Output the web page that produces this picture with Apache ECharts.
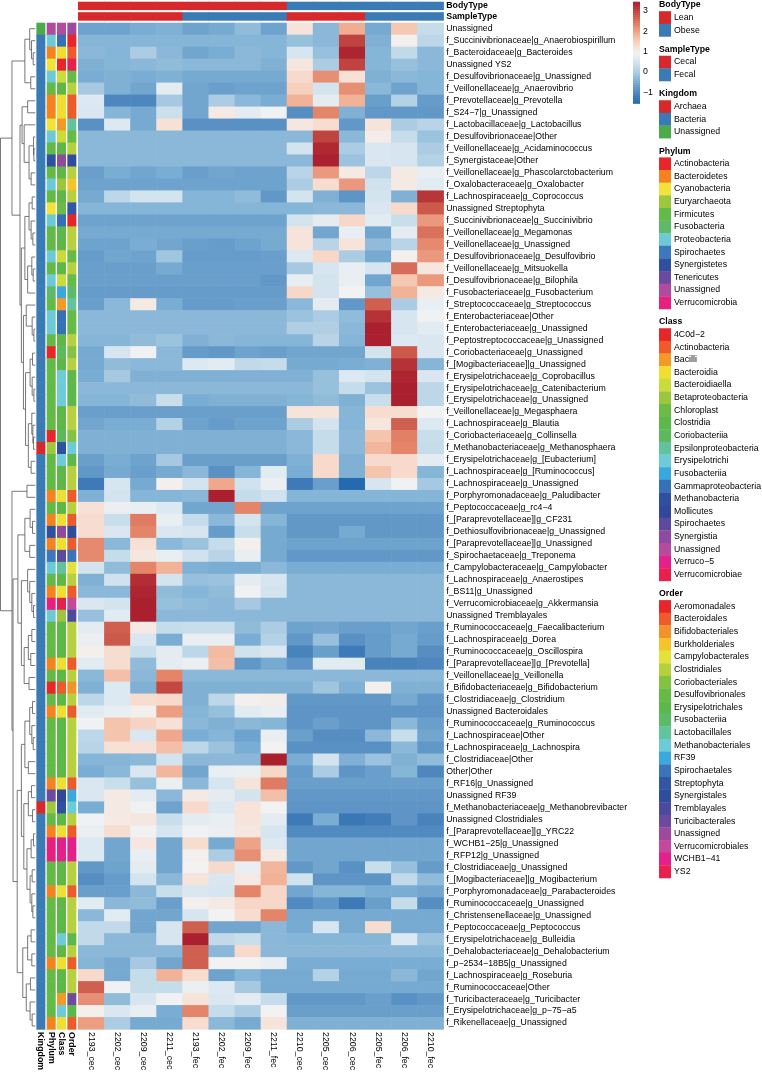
<!DOCTYPE html>
<html><head><meta charset="utf-8">
<script src="https://cdn.jsdelivr.net/npm/echarts@6/dist/echarts.min.js"></script>
<style>html,body{margin:0;padding:0;background:#fff}#c{width:762px;height:1073px}</style>
</head><body><div id="c"></div><script>
const samples = ['2193_cec','2202_cec','2209_cec','2211_cec','2193_fec','2202_fec','2209_fec','2211_fec','2210_cec','2205_cec','2206_cec','2205_fec','2206_fec','2210_fec'];
const bodyType = ['Lean','Lean','Lean','Lean','Lean','Lean','Lean','Lean','Obese','Obese','Obese','Obese','Obese','Obese'];
const sampleType = ['Cecal','Cecal','Cecal','Cecal','Fecal','Fecal','Fecal','Fecal','Cecal','Cecal','Cecal','Fecal','Fecal','Fecal'];
const M = '\u2212';
const taxa = ['Unassigned','f_Succinivibrionaceae|g_Anaerobiospirillum','f_Bacteroidaceae|g_Bacteroides','Unassigned YS2','f_Desulfovibrionaceae|g_Unassigned','f_Veillonellaceae|g_Anaerovibrio','f_Prevotellaceae|g_Prevotella','f_S24'+M+'7|g_Unassigned','f_Lactobacillaceae|g_Lactobacillus','f_Desulfovibrionaceae|Other','f_Veillonellaceae|g_Acidaminococcus','f_Synergistaceae|Other','f_Veillonellaceae|g_Phascolarctobacterium','f_Oxalobacteraceae|g_Oxalobacter','f_Lachnospiraceae|g_Coprococcus','Unassigned Streptophyta','f_Succinivibrionaceae|g_Succinivibrio','f_Veillonellaceae|g_Megamonas','f_Veillonellaceae|g_Unassigned','f_Desulfovibrionaceae|g_Desulfovibrio','f_Veillonellaceae|g_Mitsuokella','f_Desulfovibrionaceae|g_Bilophila','f_Fusobacteriaceae|g_Fusobacterium','f_Streptococcaceae|g_Streptococcus','f_Enterobacteriaceae|Other','f_Enterobacteriaceae|g_Unassigned','f_Peptostreptococcaceae|g_Unassigned','f_Coriobacteriaceae|g_Unassigned','f_[Mogibacteriaceae]|g_Unassigned','f_Erysipelotrichaceae|g_Coprobacillus','f_Erysipelotrichaceae|g_Catenibacterium','f_Erysipelotrichaceae|g_Unassigned','f_Veillonellaceae|g_Megasphaera','f_Lachnospiraceae|g_Blautia','f_Coriobacteriaceae|g_Collinsella','f_Methanobacteriaceae|g_Methanosphaera','f_Erysipelotrichaceae|g_[Eubacterium]','f_Lachnospiraceae|g_[Ruminococcus]','f_Lachnospiraceae|g_Unassigned','f_Porphyromonadaceae|g_Paludibacter','f_Peptococcaceae|g_rc4'+M+'4','f_[Paraprevotellaceae]|g_CF231','f_Dethiosulfovibrionaceae|g_Unassigned','f_[Paraprevotellaceae]|g_Unassigned','f_Spirochaetaceae|g_Treponema','f_Campylobacteraceae|g_Campylobacter','f_Lachnospiraceae|g_Anaerostipes','f_BS11|g_Unassigned','f_Verrucomicrobiaceae|g_Akkermansia','Unassigned Tremblayales','f_Ruminococcaceae|g_Faecalibacterium','f_Lachnospiraceae|g_Dorea','f_Ruminococcaceae|g_Oscillospira','f_[Paraprevotellaceae]|g_[Prevotella]','f_Veillonellaceae|g_Veillonella','f_Bifidobacteriaceae|g_Bifidobacterium','f_Clostridiaceae|g_Clostridium','Unassigned Bacteroidales','f_Ruminococcaceae|g_Ruminococcus','f_Lachnospiraceae|Other','f_Lachnospiraceae|g_Lachnospira','f_Clostridiaceae|Other','Other|Other','f_RF16|g_Unassigned','Unassigned RF39','f_Methanobacteriaceae|g_Methanobrevibacter','Unassigned Clostridiales','f_[Paraprevotellaceae]|g_YRC22','f_WCHB1'+M+'25|g_Unassigned','f_RFP12|g_Unassigned','f_Clostridiaceae|g_Unassigned','f_[Mogibacteriaceae]|g_Mogibacterium','f_Porphyromonadaceae|g_Parabacteroides','f_Ruminococcaceae|g_Unassigned','f_Christensenellaceae|g_Unassigned','f_Peptococcaceae|g_Peptococcus','f_Erysipelotrichaceae|g_Bulleidia','f_Dehalobacteriaceae|g_Dehalobacterium','f_p'+M+'2534'+M+'18B5|g_Unassigned','f_Lachnospiraceae|g_Roseburia','f_Ruminococcaceae|Other','f_Turicibacteraceae|g_Turicibacter','f_Erysipelotrichaceae|g_p'+M+'75'+M+'a5','f_Rikenellaceae|g_Unassigned'];

const values = [
[-0.6,-0.6,-0.45,-0.4,-0.6,-0.5,-0.25,-0.6,1.2,-0.3,1.9,-0.5,1.6,0.3],
[-0.35,-0.35,-0.35,-0.35,-0.35,-0.35,-0.35,-0.35,-0.2,-0.3,3.0,-0.4,1.0,0.2],
[-0.3,-0.35,0.0,-0.3,-0.55,-0.45,-0.3,-0.35,0.55,-0.2,3.35,-0.35,0.25,-0.3],
[-0.4,-0.35,-0.3,-0.25,-0.3,-0.3,-0.3,-0.4,1.15,0.0,3.0,-0.35,-0.2,-0.3],
[-0.45,-0.4,-0.45,-0.4,-0.5,-0.5,-0.5,-0.5,1.35,2.2,1.25,-0.4,-0.3,-0.35],
[-0.05,-0.4,-0.55,0.75,-0.55,-0.65,-0.6,-0.6,1.5,0.5,2.2,-0.3,-0.6,-0.35],
[0.65,-1.0,-1.0,-0.05,-0.55,0.0,-0.3,-0.45,1.85,0.75,1.85,-0.65,0.1,-0.7],
[0.6,-0.35,-0.5,0.4,-0.55,1.1,0.75,0.9,-0.9,2.3,-0.4,-0.75,-0.75,-0.75],
[-0.85,0.65,-0.5,1.25,-0.85,-0.85,-0.85,-0.85,1.15,1.3,-0.75,1.2,0.0,0.15],
[-0.3,-0.3,-0.3,-0.3,-0.3,-0.3,-0.3,-0.3,-0.3,3.0,-0.3,1.05,0.3,-0.15],
[-0.3,-0.3,-0.3,-0.3,-0.3,-0.3,-0.3,-0.3,0.5,3.3,0.0,0.6,0.55,0.0],
[-0.3,-0.3,-0.3,-0.3,-0.3,-0.3,-0.3,-0.3,-0.3,3.4,-0.15,0.6,0.55,0.1],
[-0.65,-0.45,-0.55,-0.45,-0.65,-0.55,-0.6,-0.6,0.15,2.1,1.1,0.2,1.1,0.8],
[-0.6,-0.6,-0.6,-0.6,-0.6,-0.6,-0.6,-0.6,0.0,1.3,2.1,0.45,1.1,0.7],
[-0.5,0.2,0.5,0.5,-0.35,-0.35,-0.25,-0.75,0.5,-0.4,-0.8,0.5,-0.4,3.15],
[-0.35,-0.35,-0.35,-0.35,-0.35,-0.35,-0.35,-0.35,-0.35,-0.3,-0.3,0.6,1.35,2.75],
[-0.6,-0.6,-0.6,-0.6,-0.6,-0.6,-0.6,-0.6,0.5,0.75,1.4,0.7,0.35,2.1],
[-0.5,-0.5,-0.5,-0.5,-0.5,-0.5,-0.5,-0.5,1.2,-0.55,0.8,-0.55,0.75,2.5],
[-0.6,-0.6,-0.45,-0.55,-0.65,-0.7,-0.6,-0.5,1.2,0.15,1.2,-0.25,0.15,2.25],
[-0.7,-0.55,-0.6,-0.1,-0.7,-0.7,-0.7,-0.65,0.65,1.4,0.0,-0.5,1.0,2.1],
[-0.65,-0.65,-0.65,-0.5,-0.65,-0.65,-0.65,-0.65,-0.05,0.55,0.8,0.55,2.55,1.15],
[-0.65,-0.65,-0.65,-0.65,-0.65,-0.65,-0.65,-0.75,0.8,0.5,0.8,-0.55,1.6,2.1],
[-0.7,-0.7,-0.7,-0.7,-0.7,-0.7,-0.7,-0.7,1.4,0.5,0.95,-0.2,1.85,1.1],
[-0.65,-0.3,1.1,-0.45,-0.7,-0.7,-0.65,-0.65,-0.3,0.75,-0.75,2.7,0.0,0.8],
[-0.3,-0.3,-0.3,-0.3,-0.3,-0.3,-0.3,-0.3,-0.15,0.0,-0.25,3.2,0.55,0.9],
[-0.3,-0.3,-0.3,-0.3,-0.3,-0.3,-0.3,-0.3,0.05,0.05,-0.3,3.4,0.55,0.7],
[-0.35,-0.35,-0.25,-0.15,-0.4,-0.3,-0.35,-0.35,-0.35,0.15,-0.35,3.4,0.65,0.6],
[-0.5,0.55,0.9,-0.3,-0.7,-0.75,-0.6,-0.65,-0.55,-0.55,-0.55,0.5,2.75,0.6],
[-0.5,-0.25,-0.3,-0.3,0.65,0.7,0.25,0.3,-0.5,-0.5,-0.45,-0.4,3.2,-0.35],
[-0.45,-0.05,-0.4,-0.4,-0.4,-0.4,-0.4,-0.4,-0.4,-0.2,0.65,0.5,3.35,0.6],
[-0.3,-0.3,-0.3,-0.3,-0.3,-0.3,-0.3,-0.3,-0.3,-0.2,0.3,-0.15,3.4,0.2],
[-0.35,-0.35,-0.25,0.35,-0.45,-0.4,-0.4,-0.4,-0.35,-0.25,-0.4,0.35,3.4,0.2],
[-0.65,-0.65,-0.65,-0.65,-0.65,-0.65,-0.65,-0.65,1.2,1.2,-0.35,1.3,1.3,0.95],
[-0.55,-0.45,-0.45,0.1,-0.6,-0.7,-0.6,-0.6,0.0,0.5,-0.35,1.15,2.7,0.65],
[-0.4,-0.4,-0.4,-0.4,-0.4,-0.4,-0.4,-0.4,-0.3,0.3,-0.3,1.65,2.35,0.35],
[-0.4,-0.4,-0.4,-0.4,-0.4,-0.4,-0.4,-0.4,-0.3,0.3,-0.3,1.8,2.3,0.3],
[-0.65,-0.45,-0.6,-0.05,-0.65,-0.65,-0.65,-0.65,-0.4,1.35,-0.4,1.35,1.35,0.75],
[-0.75,-0.5,-0.65,-0.5,-0.3,-0.85,-0.35,0.7,-0.45,1.35,-0.4,1.65,1.35,-0.35],
[-1.2,0.55,-0.5,1.0,0.5,1.95,0.45,0.85,-1.2,-0.65,-1.5,0.55,0.9,-0.05],
[-0.4,0.5,-0.35,-0.35,-0.3,3.4,0.3,0.45,-0.35,-0.35,-0.35,-0.35,-0.35,-0.35],
[1.25,0.85,0.8,0.65,-0.55,-0.55,2.3,-0.6,-0.6,-0.6,-0.6,-0.6,-0.6,-0.6],
[1.3,0.35,2.4,0.8,0.3,-0.3,0.5,-0.35,-0.75,-0.75,-0.75,-0.75,-0.75,-0.75],
[1.3,0.6,2.3,0.6,0.55,-0.7,0.35,-0.5,-0.75,-0.75,-0.5,-0.75,-0.75,-0.75],
[2.25,-0.3,1.25,-0.3,-0.15,0.3,1.0,-0.5,-0.6,-0.6,-0.6,-0.6,-0.6,-0.6],
[2.25,0.3,1.15,0.8,0.45,0.15,0.8,-0.5,-0.75,-0.75,-0.75,-0.75,-0.75,-0.75],
[0.5,-0.25,2.3,1.85,-0.4,-0.45,-0.45,-0.3,-0.45,-0.45,-0.45,-0.45,-0.45,-0.45],
[-0.4,0.45,3.25,0.5,-0.2,-0.15,0.75,0.55,-0.3,-0.3,-0.3,-0.3,-0.3,-0.3],
[-0.3,-0.3,3.35,-0.25,-0.35,-0.25,0.9,0.5,-0.3,-0.3,-0.3,-0.3,-0.3,-0.3],
[0.6,0.5,3.4,-0.2,-0.25,-0.3,-0.05,-0.3,-0.3,-0.3,-0.3,-0.3,-0.3,-0.3],
[-0.2,0.7,3.4,-0.3,-0.3,-0.3,-0.3,-0.3,-0.3,-0.3,-0.3,-0.3,-0.3,-0.3],
[0.75,2.7,1.1,0.3,0.35,0.35,-0.25,0.0,-0.6,-0.55,-0.65,-0.65,-0.55,-0.65],
[0.85,2.75,0.6,-0.45,0.8,0.8,-0.45,0.1,-0.75,-0.2,-0.85,-0.7,-0.5,-0.7],
[1.0,1.3,0.35,0.75,0.2,1.75,0.45,0.6,-1.05,-0.65,-1.2,-0.7,-0.5,-0.9],
[0.7,1.3,-0.25,0.75,0.85,1.7,-0.75,-0.5,-0.8,0.7,0.7,-1.05,-1.05,-1.0],
[-0.3,1.7,-0.3,2.3,-0.3,-0.3,-0.3,-0.3,-0.3,-0.3,-0.3,-0.3,-0.3,-0.3],
[-0.4,0.65,-0.4,2.95,-0.4,-0.4,-0.4,-0.4,-0.4,-0.1,-0.4,1.0,-0.4,-0.4],
[0.2,0.65,1.3,1.35,-0.4,0.2,1.0,1.05,-0.75,-0.75,-0.75,-0.75,-0.5,-0.75],
[0.7,0.8,1.0,2.05,-0.35,-0.2,0.7,0.8,-0.8,-0.8,-0.8,-0.8,-0.8,-0.8],
[0.9,1.65,1.45,1.25,-0.3,-0.4,-0.3,-0.35,-0.8,-0.65,-0.8,-0.8,-0.3,-0.65],
[0.2,1.65,0.6,1.95,-0.45,-0.35,-0.6,0.8,-0.65,-0.9,-0.9,-0.3,0.35,-0.55],
[0.15,1.25,1.25,1.7,0.2,-0.15,-0.45,0.95,-0.85,-0.85,-0.85,-0.85,-0.3,-0.75],
[-0.35,-0.35,-0.3,0.5,-0.3,-0.3,-0.3,3.4,-0.45,0.5,-0.4,-0.15,-0.4,-0.25],
[-0.45,-0.3,0.6,1.8,-0.55,0.8,0.85,1.4,-0.7,0.0,-0.8,-0.65,-0.35,-1.0],
[0.6,0.35,-0.2,0.85,-0.3,0.55,1.2,2.4,-0.65,-0.65,-0.65,-0.65,-0.65,-0.65],
[0.6,1.1,0.75,-0.3,1.1,0.75,0.5,1.7,-0.75,-0.75,-0.75,-0.75,-0.75,-0.75],
[-0.45,1.1,0.9,-0.6,1.35,0.65,1.2,0.95,-0.8,-0.8,-0.8,-0.8,-0.8,-0.8],
[0.9,1.1,1.15,0.35,0.75,0.8,1.2,0.75,-1.2,-0.45,-1.25,-1.15,-0.8,-1.05],
[0.85,1.3,0.9,0.55,0.9,0.85,1.15,0.55,-0.95,-0.95,-0.95,-0.95,-0.95,-0.95],
[0.65,-0.55,1.15,-0.55,1.3,-0.5,2.0,0.65,-0.55,-0.55,-0.55,-0.55,-0.55,-0.55],
[0.65,-0.55,0.8,-0.55,1.0,0.0,2.2,1.1,-0.55,-0.55,-0.55,-0.55,-0.55,-0.55],
[-0.75,-0.6,0.75,-0.55,0.95,1.35,0.8,1.8,-0.75,-0.55,-0.85,0.35,-0.2,-0.7],
[-0.9,-0.7,0.5,-0.3,1.2,0.6,1.1,1.85,0.45,-0.8,-0.8,-0.8,0.25,-0.25],
[-0.65,-0.65,-0.3,0.35,0.6,0.55,2.3,1.4,-0.55,-0.35,-0.35,-0.45,-0.45,-0.55],
[0.7,-0.3,-0.25,-0.65,1.0,1.1,1.4,1.4,-0.95,-0.75,-1.2,-0.65,0.3,-0.9],
[-0.3,0.7,-0.55,-0.55,0.55,0.95,1.3,2.3,-0.5,-0.5,-0.5,-0.5,-0.5,-0.5],
[0.25,0.25,-0.55,0.55,2.7,-0.55,-0.55,-0.3,-0.5,0.55,-0.5,1.3,-0.5,-0.5],
[0.25,-0.3,-0.3,0.55,3.4,0.25,0.35,-0.3,-0.35,-0.35,-0.35,-0.35,0.65,-0.15],
[-0.3,-0.3,-0.3,-0.3,2.7,-0.3,1.35,-0.3,-0.3,-0.3,-0.3,-0.3,-0.3,-0.3],
[-0.35,-0.5,-0.05,-0.55,2.7,0.95,0.95,0.8,-0.45,-0.45,-0.45,-0.45,-0.45,-0.45],
[1.35,-0.5,0.3,1.85,1.3,-0.6,-0.35,-0.5,-0.5,0.1,-0.5,-0.5,-0.3,-0.55],
[2.7,0.9,0.3,0.3,0.85,0.65,-0.05,-0.5,-0.5,-0.5,-0.5,-0.5,-0.5,-0.5],
[2.2,-0.25,0.55,0.9,1.2,0.6,0.75,0.3,-0.75,-0.75,-0.75,-0.65,-0.85,-0.75],
[1.0,0.6,0.8,-0.45,2.3,0.3,0.0,0.95,-0.65,-0.65,-0.65,-0.65,-0.65,-0.65],
[2.05,0.0,-0.5,-0.5,1.3,-0.3,-0.5,1.2,-0.4,-0.4,-0.4,-0.4,-0.4,-0.4]
];

// Row annotations (one per taxon row)
const B='Bacteria', A='Archaea';
const kingdom = ['Unassigned',B,B,B,B,B,B,B,B,B,B,B,B,B,B,B,B,B,B,B,B,B,B,B,B,B,B,B,B,B,B,B,B,B,B,A,B,B,B,B,B,B,B,B,B,B,B,B,B,B,B,B,B,B,B,B,B,B,B,B,B,B,B,B,B,A,B,B,B,B,B,B,B,B,B,B,B,B,B,B,B,B,B,B];
const F='Firmicutes', Bd='Bacteroidetes', Pr='Proteobacteria';
const phylum = ['Unassigned',Pr,Bd,'Cyanobacteria',Pr,F,Bd,Bd,'Cyanobacteria',Pr,F,'Synergistetes',F,Pr,F,'Cyanobacteria',Pr,F,F,Pr,F,Pr,'Fusobacteria',F,Pr,Pr,F,'Actinobacteria',F,F,F,F,F,F,'Actinobacteria','Euryarchaeota',F,F,F,Bd,F,Bd,'Synergistetes',Bd,'Spirochaetes',Pr,F,Bd,'Verrucomicrobia',Pr,F,F,F,Bd,F,'Actinobacteria',F,Bd,F,F,F,F,F,Bd,'Tenericutes','Euryarchaeota',F,Bd,'Verrucomicrobia','Verrucomicrobia',F,F,Bd,F,F,F,F,F,Bd,F,F,F,F,Bd];
const Cl='Clostridia', Bi='Bacteroidia', Ga='Gammaproteobacteria', De='Bacteroidiaella', Er='Erysipelotrichi';
const klass = ['Unassigned',Ga,Bi,'4C0d'+M+'2',De,Cl,Bi,Bi,'Bacilli',De,Cl,'Synergistia',Cl,'Betaproteobacteria',Cl,'Chloroplast',Ga,Cl,Cl,De,Cl,De,'Fusobacteriia','Bacilli',Ga,Ga,Cl,'Coriobacteriia',Cl,Er,Er,Er,Cl,Cl,'Coriobacteriia','Methanobacteria',Er,Cl,Cl,Bi,Cl,Bi,'Synergistia',Bi,'Spirochaetes','Epsilonproteobacteria',Cl,Bi,'Verrucomicrobiae','Betaproteobacteria',Cl,Cl,Cl,Bi,Cl,'Actinobacteria',Cl,Bi,Cl,Cl,Cl,Cl,Cl,Bi,'Mollicutes','Methanobacteria',Cl,Bi,'Verruco'+M+'5','Verruco'+M+'5',Cl,Cl,Bi,Cl,Cl,Cl,Er,Cl,Bi,Cl,Cl,'Bacilli',Er,Bi];
const Co='Clostridiales', Ba='Bacteroidales', Ds='Desulfovibrionales', Ey='Erysipelotrichales';
const order = ['Unassigned','Aeromonadales',Ba,'YS2',Ds,Co,Ba,Ba,'Lactobacillales',Ds,Co,'Synergistales',Co,'Burkholderiales',Co,'Streptophyta','Aeromonadales',Co,Co,Ds,Co,Ds,'Fusobacteriia','Lactobacillales',Ds,Ds,Co,'Coriobacteriales',Co,Ey,Ey,Ey,Co,Co,'Coriobacteriales','Methanobacteriales',Ey,Co,Co,Ba,Co,Ba,'Synergistales',Ba,'Spirochaetales','Campylobacterales',Co,Ba,'Verrucomicrobiales','Tremblayales',Co,Co,Co,Ba,Co,'Bifidobacteriales',Co,Ba,Co,Co,Co,Co,Co,Ba,'RF39','Methanobacteriales',Co,Ba,'WCHB1'+M+'41','WCHB1'+M+'41',Co,Co,Ba,Co,Co,Co,Ey,Co,Ba,Co,Co,'Turicibacterales',Ey,Ba];

// legend levels and colours
const bodyLevels = ['Lean','Obese'], bodyColors = ['#D7292B','#3B7BB5'];
const sampleLevels = ['Cecal','Fecal'], sampleColors = ['#D7292B','#3B7BB5'];
const kingdomLevels = ['Archaea','Bacteria','Unassigned'], kingdomColors = ['#D7292B','#3B7BB5','#4DAA4A'];
const phylumLevels = ['Actinobacteria','Bacteroidetes','Cyanobacteria','Euryarchaeota','Firmicutes','Fusobacteria','Proteobacteria','Spirochaetes','Synergistetes','Tenericutes','Unassigned','Verrucomicrobia'];
const phylumColors = ['#E8262A','#F4831F','#F2E33A','#9DC73D','#64BA46','#5EBA6A','#6CCAD6','#3D77BD','#2F4FA0','#6A4BA0','#B04B9F','#E6207E'];
const classLevels = ['4C0d'+M+'2','Actinobacteria','Bacilli','Bacteroidia','Bacteroidiaella','Betaproteobacteria','Chloroplast','Clostridia','Coriobacteriia','Epsilonproteobacteria','Erysipelotrichi','Fusobacteriia','Gammaproteobacteria','Methanobacteria','Mollicutes','Spirochaetes','Synergistia','Unassigned','Verruco'+M+'5','Verrucomicrobiae'];
const classColors = ['#E8262A','#EE5A2A','#F39A26','#F2DE2F','#C9DC3A','#9DC63F','#6CBB45','#5EB848','#5CB95E','#62C29B','#6ECCD8','#3BA7DF','#3670B8','#2F4FA0','#31479C','#5B4A9E','#8E4A9E','#B64A9C','#E4208A','#E8204E'];
const orderLevels = ['Aeromonadales','Bacteroidales','Bifidobacteriales','Burkholderiales','Campylobacterales','Clostridiales','Coriobacteriales','Desulfovibrionales','Erysipelotrichales','Fusobacteriia','Lactobacillales','Methanobacteriales','RF39','Spirochaetales','Streptophyta','Synergistales','Tremblayales','Turicibacterales','Unassigned','Verrucomicrobiales','WCHB1'+M+'41','YS2'];
const orderColors = ['#E8262A','#EE5A2A','#F3922A','#F4C42A','#E3E13A','#B7D03E','#83C242','#66BB46','#5CB84A','#5DBA6A','#63C39C','#6BCBD8','#3BA9E0','#3A75BC','#3256A5','#2F4C9D','#4B4A9E','#6E4A9E','#9D4A9E','#C4489C','#E6208A','#E8204E'];

// heatmap colour ramp
const rampStops = [[-1.55,'#2166ac'],[-1.1,'#4580ba'],[-0.75,'#6298c8'],[-0.45,'#7aadd3'],[-0.2,'#96c0dc'],[0.05,'#b0cfe4'],[0.35,'#c9deeb'],[0.65,'#dde9f2'],[0.95,'#f2f2f2'],[1.25,'#f7e0d5'],[1.55,'#f6cdb8'],[1.9,'#f0ad92'],[2.3,'#e4856a'],[2.75,'#cc5a4a'],[3.45,'#a81c2c']];
const scaleMin = -1.55, scaleMax = 3.45, scaleTicks = [-1,0,1,2,3];

// row dendrogram: [height, left, right]; leaves are row indices
const treeT1  = [3.0,[1.6,0,[1.1,1,[0.6,2,3]]],[1.3,4,5]];
const treeT2a = [3.8,[2.2,6,7],[3.2,8,[1.8,[0.5,9,[0.4,10,11]],[1.2,12,13]]]];
const treeX   = [3.0,[1.8,[0.9,14,15],[1.2,16,[0.7,17,18]]],[2.2,[1.0,19,[0.6,20,21]],22]];
const treeY1  = [2.6,23,[0.9,24,[0.4,25,26]]];
const treeY2  = [2.8,[1.5,[0.8,27,28],[0.9,29,[0.4,30,31]]],[2.0,[1.0,32,[0.7,33,[0.5,34,35]]],[1.2,36,37]]];
const treeB1  = [2.4,38,39];
const treeP   = [3.0,[1.5,40,[0.8,41,42]],[1.6,43,44]];
const treeQ   = [4.0,[2.2,45,[1.6,46,[1.0,47,[0.5,48,49]]]],[3.2,[2.0,[1.0,50,51],[1.3,52,53]],[1.8,54,55]]];
const treeR   = [4.0,[3.0,[1.6,[0.8,56,57],[1.0,58,[0.6,59,60]]],[2.0,61,62]],[3.3,[2.0,[1.1,63,64],[0.8,65,66]],[2.4,[1.2,[0.5,67,68],69],[1.5,[0.9,70,71],[1.0,72,[0.7,73,74]]]]]];
const treeS   = [3.6,[2.2,[1.2,75,76],[1.0,77,78]],[2.6,[1.4,79,80],[1.5,81,[0.9,82,83]]]];
const tree = [10,
  [6.7, treeT1, [4.4, treeT2a, [4.0, treeX, [3.4, treeY1, treeY2]]]],
  [6.7, treeB1, [6.4, [5.0, treeP, treeQ], [5.2, treeR, treeS]]]];

// ---------- helpers ----------
function hex2rgb(h){return [parseInt(h.slice(1,3),16),parseInt(h.slice(3,5),16),parseInt(h.slice(5,7),16)];}
function colorOf(v){
  if (v<=rampStops[0][0]) return rampStops[0][1];
  for (let i=1;i<rampStops.length;i++){
    if (v<=rampStops[i][0]){
      const [v0,c0]=rampStops[i-1],[v1,c1]=rampStops[i];
      const t=(v-v0)/(v1-v0), a=hex2rgb(c0), b=hex2rgb(c1);
      return 'rgb('+a.map((x,k)=>Math.round(x+(b[k]-x)*t)).join(',')+')';
    }
  }
  return rampStops[rampStops.length-1][1];
}
const FONT = '"Liberation Sans", Arial, Helvetica, sans-serif';
const FS = 8.75;
const nR = taxa.length;

const heatData = [];
values.forEach((row,r)=>row.forEach((v,c)=>heatData.push([c,r,v])));

const colAnnoData = [], colAnnoColor = [];
samples.forEach((s,c)=>{ colAnnoData.push([c,0]); colAnnoColor.push(bodyColors[bodyLevels.indexOf(bodyType[c])]); });
const colAnno2Data = [], colAnno2Color = [];
samples.forEach((s,c)=>{ colAnno2Data.push([c,0]); colAnno2Color.push(sampleColors[sampleLevels.indexOf(sampleType[c])]); });

const rowTracks = [[kingdom,kingdomLevels,kingdomColors],[phylum,phylumLevels,phylumColors],[klass,classLevels,classColors],[order,orderLevels,orderColors]];
const rowAnnoData = [], rowAnnoColor = [];
rowTracks.forEach(([arr,lv,cols],t)=>arr.forEach((name,r)=>{
  rowAnnoData.push([t,r]);
  const i = lv.indexOf(name);
  rowAnnoColor.push(i>=0?cols[i]:'#5CB84A');
}));

const dendroSegs = [];
function walk(n){
  if (typeof n === 'number') return {h:0,y:n};
  const L = walk(n[1]), R = walk(n[2]);
  dendroSegs.push({coords:[[L.h,L.y],[n[0],L.y],[n[0],R.y],[R.h,R.y]]});
  return {h:n[0], y:(L.y+R.y)/2};
}
walk(tree);
const rootH = tree[0];

const barSteps = [];
const NS = 150;
for (let i=0;i<NS;i++){ barSteps.push([0, scaleMin+(scaleMax-scaleMin)*i/NS, scaleMin+(scaleMax-scaleMin)*(i+1)/NS]); }

const legendGroups = [
  ['BodyType',bodyLevels,bodyColors],['SampleType',sampleLevels,sampleColors],['Kingdom',kingdomLevels,kingdomColors],
  ['Phylum',phylumLevels,phylumColors],['Class',classLevels,classColors],['Order',orderLevels,orderColors]];
const graphics = [];
(function(){
  const LX = 659, step = 12.63, boxW = 12;
  let y = 5;
  legendGroups.forEach(([title,lv,cols])=>{
    graphics.push({type:'text',x:LX,y:y,style:{text:title,font:'bold '+FS+'px '+FONT,fill:'#000',verticalAlign:'middle'}});
    y += 12.5;
    lv.forEach((name,i)=>{
      graphics.push({type:'rect',shape:{x:LX,y:y-step/2,width:boxW,height:step+0.3},style:{fill:cols[i]}});
      graphics.push({type:'text',x:LX+15,y:y,style:{text:name,font:FS+'px '+FONT,fill:'#000',verticalAlign:'middle'}});
      if (i<lv.length-1) y += step;
    });
    y += 19.4;
  });
})();

const HM = {left:78, top:22.7, width:365.3, height:1009.3};
const hidden = {show:false};
const lab = (extra)=>Object.assign({margin:3,fontSize:FS,color:'#000',fontFamily:FONT},extra||{});
const option = {
  animation:false,
  textStyle:{fontFamily:FONT},
  grid:[
    {left:HM.left, top:HM.top, width:HM.width, height:HM.height},
    {left:HM.left, top:1.7, width:HM.width, height:8.4},
    {left:HM.left, top:12.2, width:HM.width, height:8.5},
    {left:35.7, top:HM.top, width:41.3, height:HM.height},
    {left:0.5, top:HM.top, width:34.8, height:HM.height},
    {left:633, top:1.7, width:7, height:101.6}
  ],
  xAxis:[
    {gridIndex:0,type:'category',data:samples,position:'bottom',axisLine:hidden,axisTick:hidden,splitLine:hidden,axisLabel:lab({rotate:-90,interval:0})},
    {gridIndex:1,type:'category',data:samples,show:false},
    {gridIndex:2,type:'category',data:samples,show:false},
    {gridIndex:3,type:'category',data:['Kingdom','Phylum','Class','Order'],axisLine:hidden,axisTick:hidden,axisLabel:lab({rotate:-90,interval:0,fontWeight:'bold'})},
    {gridIndex:4,type:'value',min:0,max:rootH,inverse:true,show:false},
    {gridIndex:5,type:'category',data:[''],show:false}
  ],
  yAxis:[
    {gridIndex:0,type:'category',data:taxa,inverse:true,position:'right',axisLine:hidden,axisTick:hidden,splitLine:hidden,axisLabel:lab({interval:0})},
    {gridIndex:1,type:'category',data:['BodyType'],position:'right',axisLine:hidden,axisTick:hidden,axisLabel:lab({fontWeight:'bold'})},
    {gridIndex:2,type:'category',data:['SampleType'],position:'right',axisLine:hidden,axisTick:hidden,axisLabel:lab({fontWeight:'bold'})},
    {gridIndex:3,type:'category',data:taxa,inverse:true,show:false},
    {gridIndex:4,type:'value',min:-0.5,max:nR-0.5,inverse:true,show:false},
    {gridIndex:5,type:'value',min:scaleMin,max:scaleMax,position:'right',axisLine:hidden,axisTick:hidden,splitLine:hidden,
     axisLabel:lab({customValues:scaleTicks,formatter:v=>String(v).replace('-','\u2212')})}
  ],
  series:[
    {type:'custom',xAxisIndex:0,yAxisIndex:0,data:heatData,silent:true,
     renderItem:(p,api)=>{const c=api.coord([api.value(0),api.value(1)]),s=api.size([1,1]);
       return {type:'rect',shape:{x:c[0]-s[0]/2,y:c[1]-s[1]/2,width:s[0]+0.6,height:s[1]+0.6},style:{fill:colorOf(api.value(2))}};}},
    {type:'custom',xAxisIndex:1,yAxisIndex:1,data:colAnnoData,silent:true,
     renderItem:(p,api)=>{const c=api.coord([api.value(0),0]),s=api.size([1,1]);
       return {type:'rect',shape:{x:c[0]-s[0]/2,y:c[1]-s[1]/2,width:s[0]+0.6,height:s[1]},style:{fill:colAnnoColor[p.dataIndex]}};}},
    {type:'custom',xAxisIndex:2,yAxisIndex:2,data:colAnno2Data,silent:true,
     renderItem:(p,api)=>{const c=api.coord([api.value(0),0]),s=api.size([1,1]);
       return {type:'rect',shape:{x:c[0]-s[0]/2,y:c[1]-s[1]/2,width:s[0]+0.6,height:s[1]},style:{fill:colAnno2Color[p.dataIndex]}};}},
    {type:'custom',xAxisIndex:3,yAxisIndex:3,data:rowAnnoData,silent:true,
     renderItem:(p,api)=>{const c=api.coord([api.value(0),api.value(1)]),s=api.size([1,1]);
       return {type:'rect',shape:{x:c[0]-4.5,y:c[1]-s[1]/2,width:9,height:s[1]+0.6},style:{fill:rowAnnoColor[p.dataIndex]}};}},
    {type:'lines',coordinateSystem:'cartesian2d',xAxisIndex:4,yAxisIndex:4,polyline:true,silent:true,
     lineStyle:{color:'#555',width:0.8,opacity:1},data:dendroSegs},
    {type:'custom',xAxisIndex:5,yAxisIndex:5,data:barSteps,silent:true,
     renderItem:(p,api)=>{const a=api.coord([0,api.value(1)]),b=api.coord([0,api.value(2)]),s=api.size([1,0]);
       return {type:'rect',shape:{x:a[0]-s[0]/2,y:b[1],width:s[0],height:a[1]-b[1]+0.5},style:{fill:colorOf((api.value(1)+api.value(2))/2)}};}}
  ],
  graphic:graphics
};
const chart = echarts.init(document.getElementById('c'),null,{renderer:'canvas'});
chart.setOption(option);
</script></body></html>
